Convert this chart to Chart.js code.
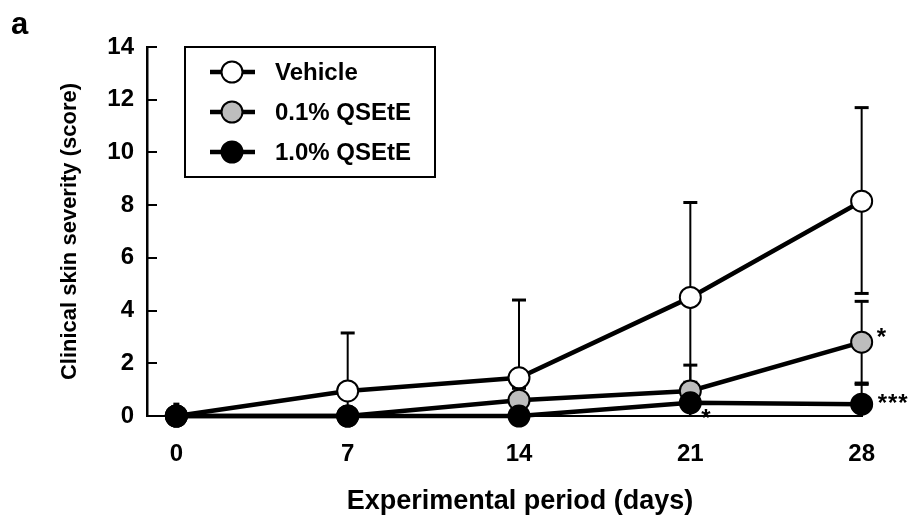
<!DOCTYPE html>
<html lang="en">
<head>
    <meta charset="UTF-8">
    <title>Clinical skin severity</title>
    <script src="https://cdn.jsdelivr.net/npm/chart.js"></script>
    <style>
        html, body { margin: 0; padding: 0; background: #fff; }
        .wrap { position: relative; width: 909px; height: 517px; }
    </style>
</head>
<body>
    <div class="wrap">
        <canvas id="severityChart" width="909" height="517"></canvas>
    </div>

    <script>
        // data
        const days = [0, 7, 14, 21, 28];
        const yTicks = [0, 2, 4, 6, 8, 10, 12, 14];

        const vehicle = [0, 0.95, 1.45, 4.5, 8.15];
        const vehicleHigh = [0.45, 3.15, 4.4, 8.1, 11.7];
        const vehicleLow = [0, 0, 0, 0.9, 4.65];

        const low01 = [0, 0, 0.6, 0.95, 2.8];
        const low01High = [0, 0, 1.05, 1.93, 4.35];
        const low01Low = [0, 0, 0, 0, 1.25];

        const high10 = [0, 0, 0, 0.5, 0.45];
        const high10High = [0, 0, 0, 1.28, 1.2];
        const high10Low = [0, 0, 0, 0, 0];

        // significance marks: [day, value, text]
        const marks = [
            [28, 2.8, '*'],
            [28, 0.45, '***'],
            [21, 0.5, '*']
        ];

        const xTitle = 'Experimental period (days)';
        const FONT = 'Liberation Sans, Arial, Helvetica, sans-serif';

        function pts(vals) {
            return vals.map((v, i) => ({ x: days[i], y: v }));
        }

        // error bars, drawn under the lines and markers
        const errorBars = {
            id: 'errorBars',
            beforeDatasetsDraw(chart) {
                const ctx = chart.ctx;
                const xs = chart.scales.x, ys = chart.scales.y;
                ctx.save();
                ctx.strokeStyle = '#000';
                chart.data.datasets.forEach(ds => {
                    ds.data.forEach((p, i) => {
                        const hi = ds.errHigh[i], lo = ds.errLow[i];
                        if (hi === p.y && lo === p.y) return;
                        const px = xs.getPixelForValue(p.x);
                        const yHi = ys.getPixelForValue(hi);
                        const yLo = ys.getPixelForValue(lo);
                        ctx.lineWidth = 2;
                        ctx.beginPath();
                        ctx.moveTo(px, yLo);
                        ctx.lineTo(px, yHi);
                        ctx.stroke();
                        ctx.lineWidth = 3;
                        const cw = hi < 1 ? 3 : 7;
                        if (hi > p.y) {
                            ctx.beginPath();
                            ctx.moveTo(px - cw, yHi);
                            ctx.lineTo(px + cw, yHi);
                            ctx.stroke();
                        }
                        if (lo < p.y && lo > 0) {
                            ctx.beginPath();
                            ctx.moveTo(px - cw, yLo);
                            ctx.lineTo(px + cw, yLo);
                            ctx.stroke();
                        }
                    });
                });
                ctx.restore();
            }
        };

        // legend box, asterisks, x title and the panel letter
        const extras = {
            id: 'extras',
            afterDraw(chart) {
                const ctx = chart.ctx;
                const xs = chart.scales.x, ys = chart.scales.y;
                ctx.save();
                ctx.fillStyle = '#000';

                // panel letter
                ctx.font = 'bold 31px ' + FONT;
                ctx.textAlign = 'left';
                ctx.textBaseline = 'alphabetic';
                ctx.fillText('a', 11, 34);

                // x axis title (sits a bit right of the plot centre in the original)
                ctx.font = 'bold 27px ' + FONT;
                ctx.textAlign = 'center';
                ctx.textBaseline = 'middle';
                ctx.fillText(xTitle, 520, 502);

                // legend
                ctx.textAlign = 'left';
                ctx.lineWidth = 2;
                ctx.strokeStyle = '#000';
                ctx.strokeRect(185, 47, 250, 130);
                const rows = [72, 112, 152];
                ctx.font = 'bold 24px ' + FONT;
                chart.data.datasets.forEach((ds, i) => {
                    const y = rows[i];
                    ctx.lineWidth = 4.5;
                    ctx.beginPath();
                    ctx.moveTo(210, y);
                    ctx.lineTo(255, y);
                    ctx.stroke();
                    ctx.beginPath();
                    ctx.arc(232, y, 10.5, 0, Math.PI * 2);
                    ctx.fillStyle = ds.pointBackgroundColor;
                    ctx.fill();
                    ctx.lineWidth = 2;
                    ctx.stroke();
                    ctx.fillStyle = '#000';
                    ctx.fillText(ds.label, 275, y + 1);
                });

                // asterisks
                ctx.font = 'bold 24px ' + FONT;
                ctx.textBaseline = 'alphabetic';
                marks.forEach(([d, v, t], i) => {
                    const px = xs.getPixelForValue(d);
                    const py = ys.getPixelForValue(v);
                    if (i === 2) {
                        ctx.fillText(t, px + 11, py + 23);
                    } else if (t.length > 1) {
                        ctx.letterSpacing = '1px';
                        ctx.fillText(t, px + 16, py + 7);
                        ctx.letterSpacing = '0px';
                    } else {
                        ctx.fillText(t, px + 15, py + 3);
                    }
                });
                ctx.restore();
            }
        };

        function series(label, vals, hi, lo, fill, order) {
            return {
                label: label,
                data: pts(vals),
                errHigh: hi,
                errLow: lo,
                borderColor: '#000',
                borderWidth: 4.5,
                pointRadius: 10.5,
                pointHoverRadius: 10.5,
                pointBackgroundColor: fill,
                pointBorderColor: '#000',
                pointBorderWidth: 2,
                tension: 0,
                order: order,
                clip: false
            };
        }

        new Chart(document.getElementById('severityChart'), {
            type: 'line',
            data: {
                datasets: [
                    series('Vehicle', vehicle, vehicleHigh, vehicleLow, '#ffffff', 3),
                    series('0.1% QSEtE', low01, low01High, low01Low, '#bdbdbd', 2),
                    series('1.0% QSEtE', high10, high10High, high10Low, '#000000', 1)
                ]
            },
            options: {
                responsive: false,
                animation: false,
                layout: { padding: { top: 47, right: 47, left: 0, bottom: 0 } },
                plugins: { legend: { display: false }, tooltip: { enabled: false } },
                scales: {
                    x: {
                        type: 'linear',
                        min: -1.2,
                        max: 28,
                        afterBuildTicks: s => { s.ticks = days.map(v => ({ value: v })); },
                        afterFit: s => { s.height = 101; },
                        grid: { drawOnChartArea: false, tickLength: -10, color: '#000', lineWidth: 2 },
                        border: { display: true, color: '#000', width: 2 },
                        ticks: {
                            color: '#000',
                            padding: 34,
                            maxRotation: 0,
                            font: { family: FONT, size: 24, weight: 'bold' }
                        },
                        title: { display: false }
                    },
                    y: {
                        min: 0,
                        max: 14,
                        afterBuildTicks: s => { s.ticks = yTicks.map(v => ({ value: v })); },
                        afterFit: s => { s.width = 147; },
                        grid: { drawOnChartArea: false, tickLength: -10, color: '#000', lineWidth: 2 },
                        border: { display: true, color: '#000', width: 2.5 },
                        ticks: {
                            color: '#000',
                            padding: 23,
                            font: { family: FONT, size: 24, weight: 'bold' }
                        },
                        title: {
                            display: true,
                            text: 'Clinical skin severity (score)',
                            color: '#000',
                            padding: { top: 57, bottom: 0 },
                            font: { family: FONT, size: 22, weight: 'bold' }
                        }
                    }
                }
            },
            plugins: [errorBars, extras]
        });
    </script>
</body>
</html>
